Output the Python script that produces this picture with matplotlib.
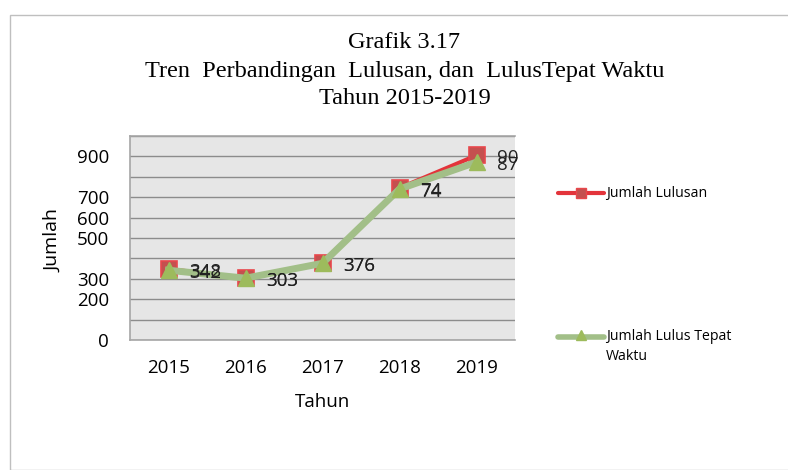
import matplotlib.pyplot as plt
from matplotlib.lines import Line2D
from matplotlib.patches import Rectangle

# data
tahun = ['2015', '2016', '2017', '2018', '2019']
jumlah_lulusan = [348, 303, 376, 745, 905]
lulus_tepat_waktu = [342, 303, 376, 740, 872]
# data labels as they are printed in the chart (some are cut off)
label_lulusan = ['348', '303', '376', '74', '90']
label_tepat = ['342', '303', '376', '74', '87']
y_ticks = [0, 100, 200, 300, 400, 500, 600, 700, 800, 900, 1000]
y_tick_labels = ['0', '', '200', '300', '', '500', '600', '700', '', '900', '']

W, H = 788, 470
red_line = '#E3343B'
red_marker = '#C4504F'
green_line = '#A2BF88'
green_marker = '#9DBB5C'

plt.rcParams['font.family'] = ['Open Sans', 'DejaVu Sans']
fig = plt.figure(figsize=(W / 100, H / 100), dpi=100)
fig.patch.set_facecolor('white')

def fx(px):
    return px / W

def fy(py):
    return 1 - py / H

# outer chart border
fig.add_artist(Rectangle((fx(10), fy(470)), 1.2, fy(15) - fy(470), transform=fig.transFigure,
                         fill=False, edgecolor='#BFBFBF', lw=1))

ax = fig.add_axes([fx(130), fy(340), fx(515) - fx(130), fy(136) - fy(340)])
ax.set_facecolor('#E6E6E6')
x = list(range(len(tahun)))

ax.plot(x, jumlah_lulusan, color=red_line, lw=3, marker='s', ms=11,
        mfc=red_marker, mec='#E8474C', mew=1.2, zorder=3)
ax.plot(x, lulus_tepat_waktu, color=green_line, lw=5, marker='^', ms=12,
        mfc=green_marker, mec=green_marker, zorder=4)

for i in x:
    ax.annotate(label_lulusan[i], (i, jumlah_lulusan[i]), xytext=(15, -2), textcoords='offset points',
                va='center', ha='left', fontsize=13.5, color='#222222', zorder=5)
    ax.annotate(label_tepat[i], (i, lulus_tepat_waktu[i]), xytext=(15, -2), textcoords='offset points',
                va='center', ha='left', fontsize=13.5, color='#222222', zorder=5)

ax.set_xlim(-0.5, 4.5)
ax.set_ylim(0, 1000)
ax.set_xticks(x)
ax.set_xticklabels(tahun, fontsize=13.5)
ax.set_yticks(y_ticks)
ax.set_yticklabels(y_tick_labels, fontsize=13.5)
ax.tick_params(axis='x', length=0, pad=14)
ax.tick_params(axis='y', length=0, pad=15)
ax.grid(axis='y', color='#8C8C8C', lw=1)
ax.set_axisbelow(True)
ax.spines['right'].set_visible(False)
for s in ['left', 'bottom', 'top']:
    ax.spines[s].set_color('#A6A6A6')
    ax.spines[s].set_linewidth(1.2)

ax.set_xlabel('Tahun', fontsize=13.5, labelpad=11)
ax.set_ylabel('Jumlah', fontsize=14)
ax.yaxis.set_label_coords(-0.175, 0.49)

# title
serif = ['Liberation Serif', 'DejaVu Serif']
fig.text(fx(404), fy(42), 'Grafik 3.17', ha='center', va='center', fontsize=17.5, family=serif)
fig.text(fx(405), fy(72), 'Tren  Perbandingan  Lulusan, dan  LulusTepat Waktu', ha='center', va='center',
         fontsize=17.5, family=serif)
fig.text(fx(405), fy(98), 'Tahun 2015-2019', ha='center', va='center', fontsize=17.5, family=serif)

# legend drawn at the right side, as in the reference
fig.add_artist(Line2D([fx(558), fx(604)], [fy(193), fy(193)], transform=fig.transFigure,
                      color=red_line, lw=3, solid_capstyle='round'))
fig.add_artist(Line2D([fx(581)], [fy(193)], transform=fig.transFigure, marker='s', ms=7,
                      mfc=red_marker, mec='#E8474C', lw=0))
fig.text(fx(606), fy(193), 'Jumlah Lulusan', ha='left', va='center', fontsize=10.2)

fig.add_artist(Line2D([fx(558), fx(604)], [fy(337), fy(337)], transform=fig.transFigure,
                      color=green_line, lw=4, solid_capstyle='round'))
fig.add_artist(Line2D([fx(581)], [fy(335)], transform=fig.transFigure, marker='^', ms=7,
                      mfc=green_marker, mec=green_marker, lw=0))
fig.text(fx(606), fy(337), 'Jumlah Lulus Tepat', ha='left', va='center', fontsize=10.2)
fig.text(fx(606), fy(357), 'Waktu', ha='left', va='center', fontsize=10.2)

fig.savefig('out.png', dpi=100)
plt.close(fig)
